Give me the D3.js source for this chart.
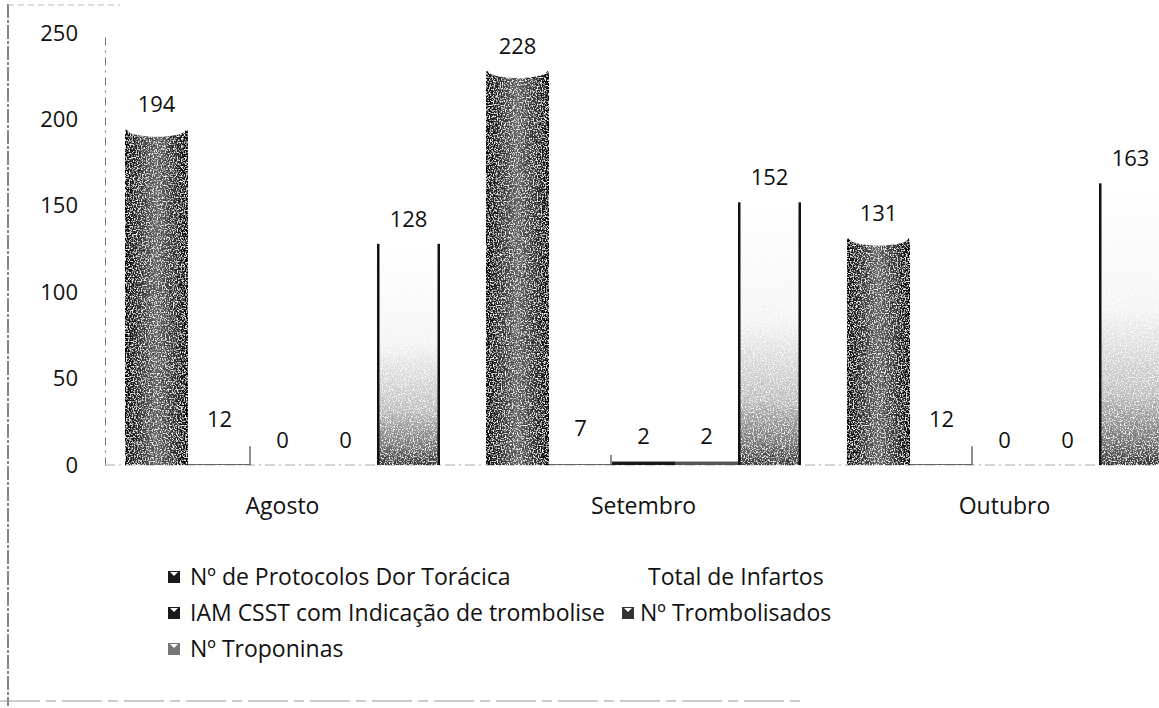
<!DOCTYPE html>
<html><head><meta charset="utf-8">
<script src="https://cdn.jsdelivr.net/npm/d3@7"></script>
<style>
body{margin:0;background:#fff;}
svg{display:block;font-family:"Open Sans",sans-serif;}
</style></head>
<body><svg id="c" width="1159" height="708"></svg>
<script>
const months = ["Agosto", "Setembro", "Outubro"];
const seriesNames = ["Nº de Protocolos Dor Torácica", "Total de Infartos", "IAM CSST com Indicação de trombolise", "Nº Trombolisados", "Nº Troponinas"];
const protocolos = [194, 228, 131];
const infartos = [12, 7, 12];
const iamCsst = [0, 2, 0];
const trombolisados = [0, 2, 0];
const troponinas = [128, 152, 163];
const yTicks = [0, 50, 100, 150, 200, 250];

const seriesValues = [protocolos, infartos, iamCsst, trombolisados, troponinas];
const svg = d3.select("#c");
const defs = svg.append("defs");

// speckle filter for scanned look
const f = defs.append("filter").attr("id","noise").attr("x",0).attr("y",0).attr("width",1).attr("height",1);
f.append("feTurbulence").attr("type","fractalNoise").attr("baseFrequency","0.75").attr("numOctaves",2).attr("seed",3).attr("result","t");
f.append("feColorMatrix").attr("in","t").attr("type","matrix")
 .attr("values","0 0 0 0 1  0 0 0 0 1  0 0 0 0 1  4 0 0 0 -1.95").attr("result","w");
f.append("feComposite").attr("in","w").attr("in2","SourceGraphic").attr("operator","in").attr("result","sp");
const fm = f.append("feMerge");
fm.append("feMergeNode").attr("in","SourceGraphic");
fm.append("feMergeNode").attr("in","sp");

const g1 = defs.append("linearGradient").attr("id","gDark").attr("x1",0).attr("x2",1).attr("y1",0).attr("y2",0);
[[0,"#000"],[0.08,"#151515"],[0.5,"#606060"],[0.92,"#151515"],[1,"#000"]].forEach(([o,c])=>g1.append("stop").attr("offset",o).attr("stop-color",c));
const g5 = defs.append("linearGradient").attr("id","gTrop").attr("x1",0).attr("x2",0).attr("y1",0).attr("y2",1);
[[0,"#ffffff"],[0.45,"#f4f4f4"],[0.75,"#bdbdbd"],[0.92,"#707070"],[1,"#303030"]].forEach(([o,c])=>g5.append("stop").attr("offset",o).attr("stop-color",c));

const fills = ["url(#gDark)", "#ffffff", "#1a1a1a", "#555555", "url(#gTrop)"];

const x = d3.scaleBand().domain(months).range([102, 1185]).paddingInner(46/361).paddingOuter(23/361);
const xs = d3.scaleBand().domain(d3.range(seriesNames.length)).range([0, x.bandwidth()]);
const y = d3.scaleLinear().domain([0, 250]).range([465, 33]);

// frame lines
svg.append("line").attr("x1",8).attr("x2",8).attr("y1",4).attr("y2",706).attr("stroke","#444").attr("stroke-width",1.3).attr("stroke-dasharray","14 2 3 2");
svg.append("line").attr("x1",8).attr("x2",120).attr("y1",5).attr("y2",5).attr("stroke","#bbb").attr("stroke-width",1).attr("stroke-dasharray","6 4");
svg.append("line").attr("x1",0).attr("x2",800).attr("y1",701).attr("y2",701).attr("stroke","#999").attr("stroke-width",1).attr("stroke-dasharray","40 6 10 6");

// y axis
const yAxis = d3.axisLeft(y).tickValues(yTicks).tickSize(0).tickPadding(27);
const ya = svg.append("g").attr("transform","translate(105,0)").call(yAxis);
ya.select(".domain").attr("stroke","#777").attr("stroke-dasharray","8 5 2 5");
ya.selectAll("text").attr("font-size",22).attr("fill","#111").attr("font-family","Open Sans, sans-serif");

// baseline
svg.append("line").attr("x1",105).attr("x2",1159).attr("y1",y(0)).attr("y2",y(0)).attr("stroke","#aaa").attr("stroke-dasharray","10 4 2 4");

// x labels
const xa = d3.axisBottom(x).tickSize(0).tickPadding(33);
const xg = svg.append("g").attr("transform",`translate(0,${y(0)})`).call(xa);
xg.select(".domain").remove();
xg.selectAll("text").attr("font-size",23).attr("fill","#111").attr("font-family","Open Sans, sans-serif");

// bars
const data = [];
months.forEach((m,i)=>seriesValues.forEach((arr,s)=>data.push({m, s, v: arr[i]})));
const bars = svg.append("g");
data.forEach(d=>{
  const bx = x(d.m) + xs(d.s), bw = xs.bandwidth();
  const top = y(d.v), h = y(0) - y(d.v);
  if (d.s === 0) {
    bars.append("rect").attr("x",bx).attr("y",top).attr("width",bw).attr("height",h).attr("fill",fills[0]).attr("filter","url(#noise)");
    bars.append("ellipse").attr("cx",bx+bw/2).attr("cy",top).attr("rx",bw/2-2).attr("ry",7).attr("fill","#fff");
  } else if (d.s === 1) {
    bars.append("rect").attr("x",bx).attr("y",top).attr("width",bw).attr("height",h).attr("fill","#fff");
    bars.append("line").attr("x1",bx+bw-1).attr("x2",bx+bw-1).attr("y1",top+2).attr("y2",y(0)).attr("stroke","#444").attr("stroke-width",1.2);
    bars.append("line").attr("x1",bx).attr("x2",bx+bw).attr("y1",y(0)-0.5).attr("y2",y(0)-0.5).attr("stroke","#666").attr("stroke-width",1);
  } else if (d.s === 4) {
    bars.append("rect").attr("x",bx).attr("y",top).attr("width",bw).attr("height",h).attr("fill",fills[4]).attr("filter","url(#noise)");
    bars.append("rect").attr("x",bx).attr("y",top).attr("width",2.5).attr("height",h).attr("fill","#111");
    bars.append("rect").attr("x",bx+bw-2.5).attr("y",top).attr("width",2.5).attr("height",h).attr("fill","#111");
  } else {
    bars.append("rect").attr("x",bx).attr("y",top).attr("width",bw).attr("height",h).attr("fill",fills[d.s]);
  }
  bars.append("text").attr("x",bx+bw/2).attr("y",top-25).attr("dy","0.35em").attr("text-anchor","middle")
    .attr("font-size",22).attr("fill","#111").text(d.v);
});

// legend
const legendItems = [
  {s:0, x:168, y:577},
  {s:1, x:626, y:577},
  {s:2, x:168, y:613},
  {s:3, x:622, y:613},
  {s:4, x:168, y:649}
];
const lg = svg.append("g");
legendItems.forEach(it=>{
  if (it.s !== 1) {
    lg.append("rect").attr("x",it.x).attr("y",it.y-6).attr("width",12).attr("height",12)
      .attr("fill", it.s===4 ? "#777" : (it.s===3 ? "#333" : "#1a1a1a"));
    lg.append("path").attr("d",`M${it.x+2},${it.y-5} L${it.x+6},${it.y-1} L${it.x+10},${it.y-5}`).attr("fill","#fff");
  }
  lg.append("text").attr("x",it.x+(it.s===3?18:22)).attr("y",it.y).attr("dy","0.35em").attr("font-size",23).attr("fill","#111").text(seriesNames[it.s]);
});
</script></body></html>
